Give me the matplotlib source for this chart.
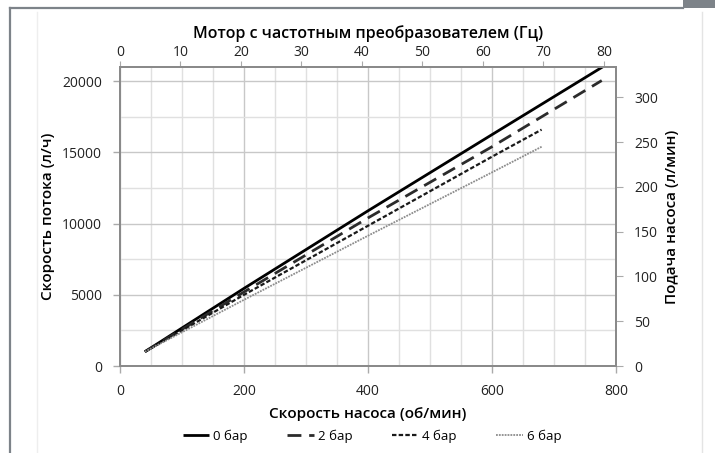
import matplotlib
matplotlib.use("Agg")
import matplotlib.pyplot as plt
from matplotlib.lines import Line2D
from matplotlib.patches import Rectangle
from matplotlib.ticker import MultipleLocator

plt.rcParams['font.family'] = ['Open Sans', 'DejaVu Sans']

# pump speed (rpm) vs flow (l/h) for each back pressure
rpm_0bar = [40, 200, 400, 600, 780]
flow_0bar = [1000, 5450, 10900, 16250, 21050]
rpm_2bar = [40, 200, 400, 600, 777]
flow_2bar = [1000, 5200, 10400, 15400, 20050]
rpm_4bar = [40, 200, 400, 600, 680]
flow_4bar = [1000, 5000, 9850, 14700, 16600]
rpm_6bar = [40, 200, 400, 600, 680]
flow_6bar = [1000, 4650, 9150, 13600, 15400]
labels = ["0 бар", "2 бар", "4 бар", "6 бар"]

W, H = 715, 453
fig = plt.figure(figsize=(W / 100, H / 100), dpi=100)

def fx(px):
    return px / W

def fy(py):
    return 1 - py / H

ax = fig.add_axes([fx(120), fy(366), fx(616) - fx(120), fy(67) - fy(366)])

ax.plot(rpm_0bar, flow_0bar, color="black", lw=2.0, solid_capstyle="butt", label=labels[0])
ax.plot(rpm_2bar, flow_2bar, color="#2b2b2b", lw=2.0, dashes=(5, 2.8), label=labels[1])
ax.plot(rpm_4bar, flow_4bar, color="#1a1a1a", lw=1.6, dashes=(2.0, 1.0), label=labels[2])
ax.plot(rpm_6bar, flow_6bar, color="#8c8c8c", lw=1.3, dashes=(1.0, 0.6), label=labels[3])

ax.set_xlim(0, 800)
ax.set_ylim(0, 21000)
ax.xaxis.set_major_locator(MultipleLocator(200))
ax.xaxis.set_minor_locator(MultipleLocator(50))
ax.yaxis.set_major_locator(MultipleLocator(5000))
ax.yaxis.set_minor_locator(MultipleLocator(2500))
ax.grid(which="major", color="#c8c8c8", lw=1.0)
ax.grid(which="minor", color="#e0e0e0", lw=1.0)
ax.set_axisbelow(True)
ax.tick_params(which="major", direction="out", length=5, width=1, color="#aaaaaa",
               labelsize=10, labelcolor="#222222", pad=8)
ax.tick_params(which="minor", length=0)
for s in ax.spines.values():
    s.set_color("#8a8a8a")
    s.set_linewidth(1.2)

ax.set_xlabel("Скорость насоса (об/мин)", fontsize=11, fontweight="semibold", labelpad=6)
ax.set_ylabel("Скорость потока (л/ч)", fontsize=11, fontweight="semibold", labelpad=5)

# motor frequency on top
top = ax.twiny()
top.set_xlim(0, 82)
top.xaxis.set_major_locator(MultipleLocator(10))
top.tick_params(direction="out", length=4, color="#aaaaaa", labelsize=10,
                labelcolor="#222222", pad=1)
top.set_xlabel("Мотор с частотным преобразователем (Гц)", fontsize=11.5,
               fontweight="semibold", labelpad=5)

# pump delivery in l/min on the right
right = ax.twinx()
right.set_ylim(0, 334)
right.yaxis.set_major_locator(MultipleLocator(50))
right.tick_params(direction="out", length=5, color="#aaaaaa", labelsize=10,
                  labelcolor="#222222", pad=8)
right.set_ylabel("Подача насоса (л/мин)", fontsize=11, fontweight="semibold", labelpad=5)
for a in (top, right):
    for s in a.spines.values():
        s.set_color("#8a8a8a")
        s.set_linewidth(1.2)

handles, lbls = ax.get_legend_handles_labels()
fig.legend(handles, lbls, loc="center", bbox_to_anchor=(fx(372), fy(436)), ncol=4,
           frameon=False, fontsize=9.5, handlelength=2.0, handletextpad=0.3,
           columnspacing=3.0)

# page frame around the chart
fig.add_artist(Line2D([fx(10), fx(10)], [fy(8), 0], transform=fig.transFigure,
                      color="#7d8389", lw=1.6))
fig.add_artist(Line2D([fx(10), fx(683)], [fy(8), fy(8)], transform=fig.transFigure,
                      color="#7d8389", lw=1.6))
fig.add_artist(Rectangle((fx(683), fy(8)), 1 - fx(683), fy(0) - fy(8),
                         transform=fig.transFigure, color="#7d8389", lw=0))
fig.add_artist(Line2D([fx(37), fx(37)], [fy(12), 0], transform=fig.transFigure,
                      color="#eeeeee", lw=1.0))
fig.add_artist(Line2D([fx(702), fx(702)], [fy(12), 0], transform=fig.transFigure,
                      color="#e4e4e4", lw=1.0))

fig.savefig("out.png", dpi=100)
